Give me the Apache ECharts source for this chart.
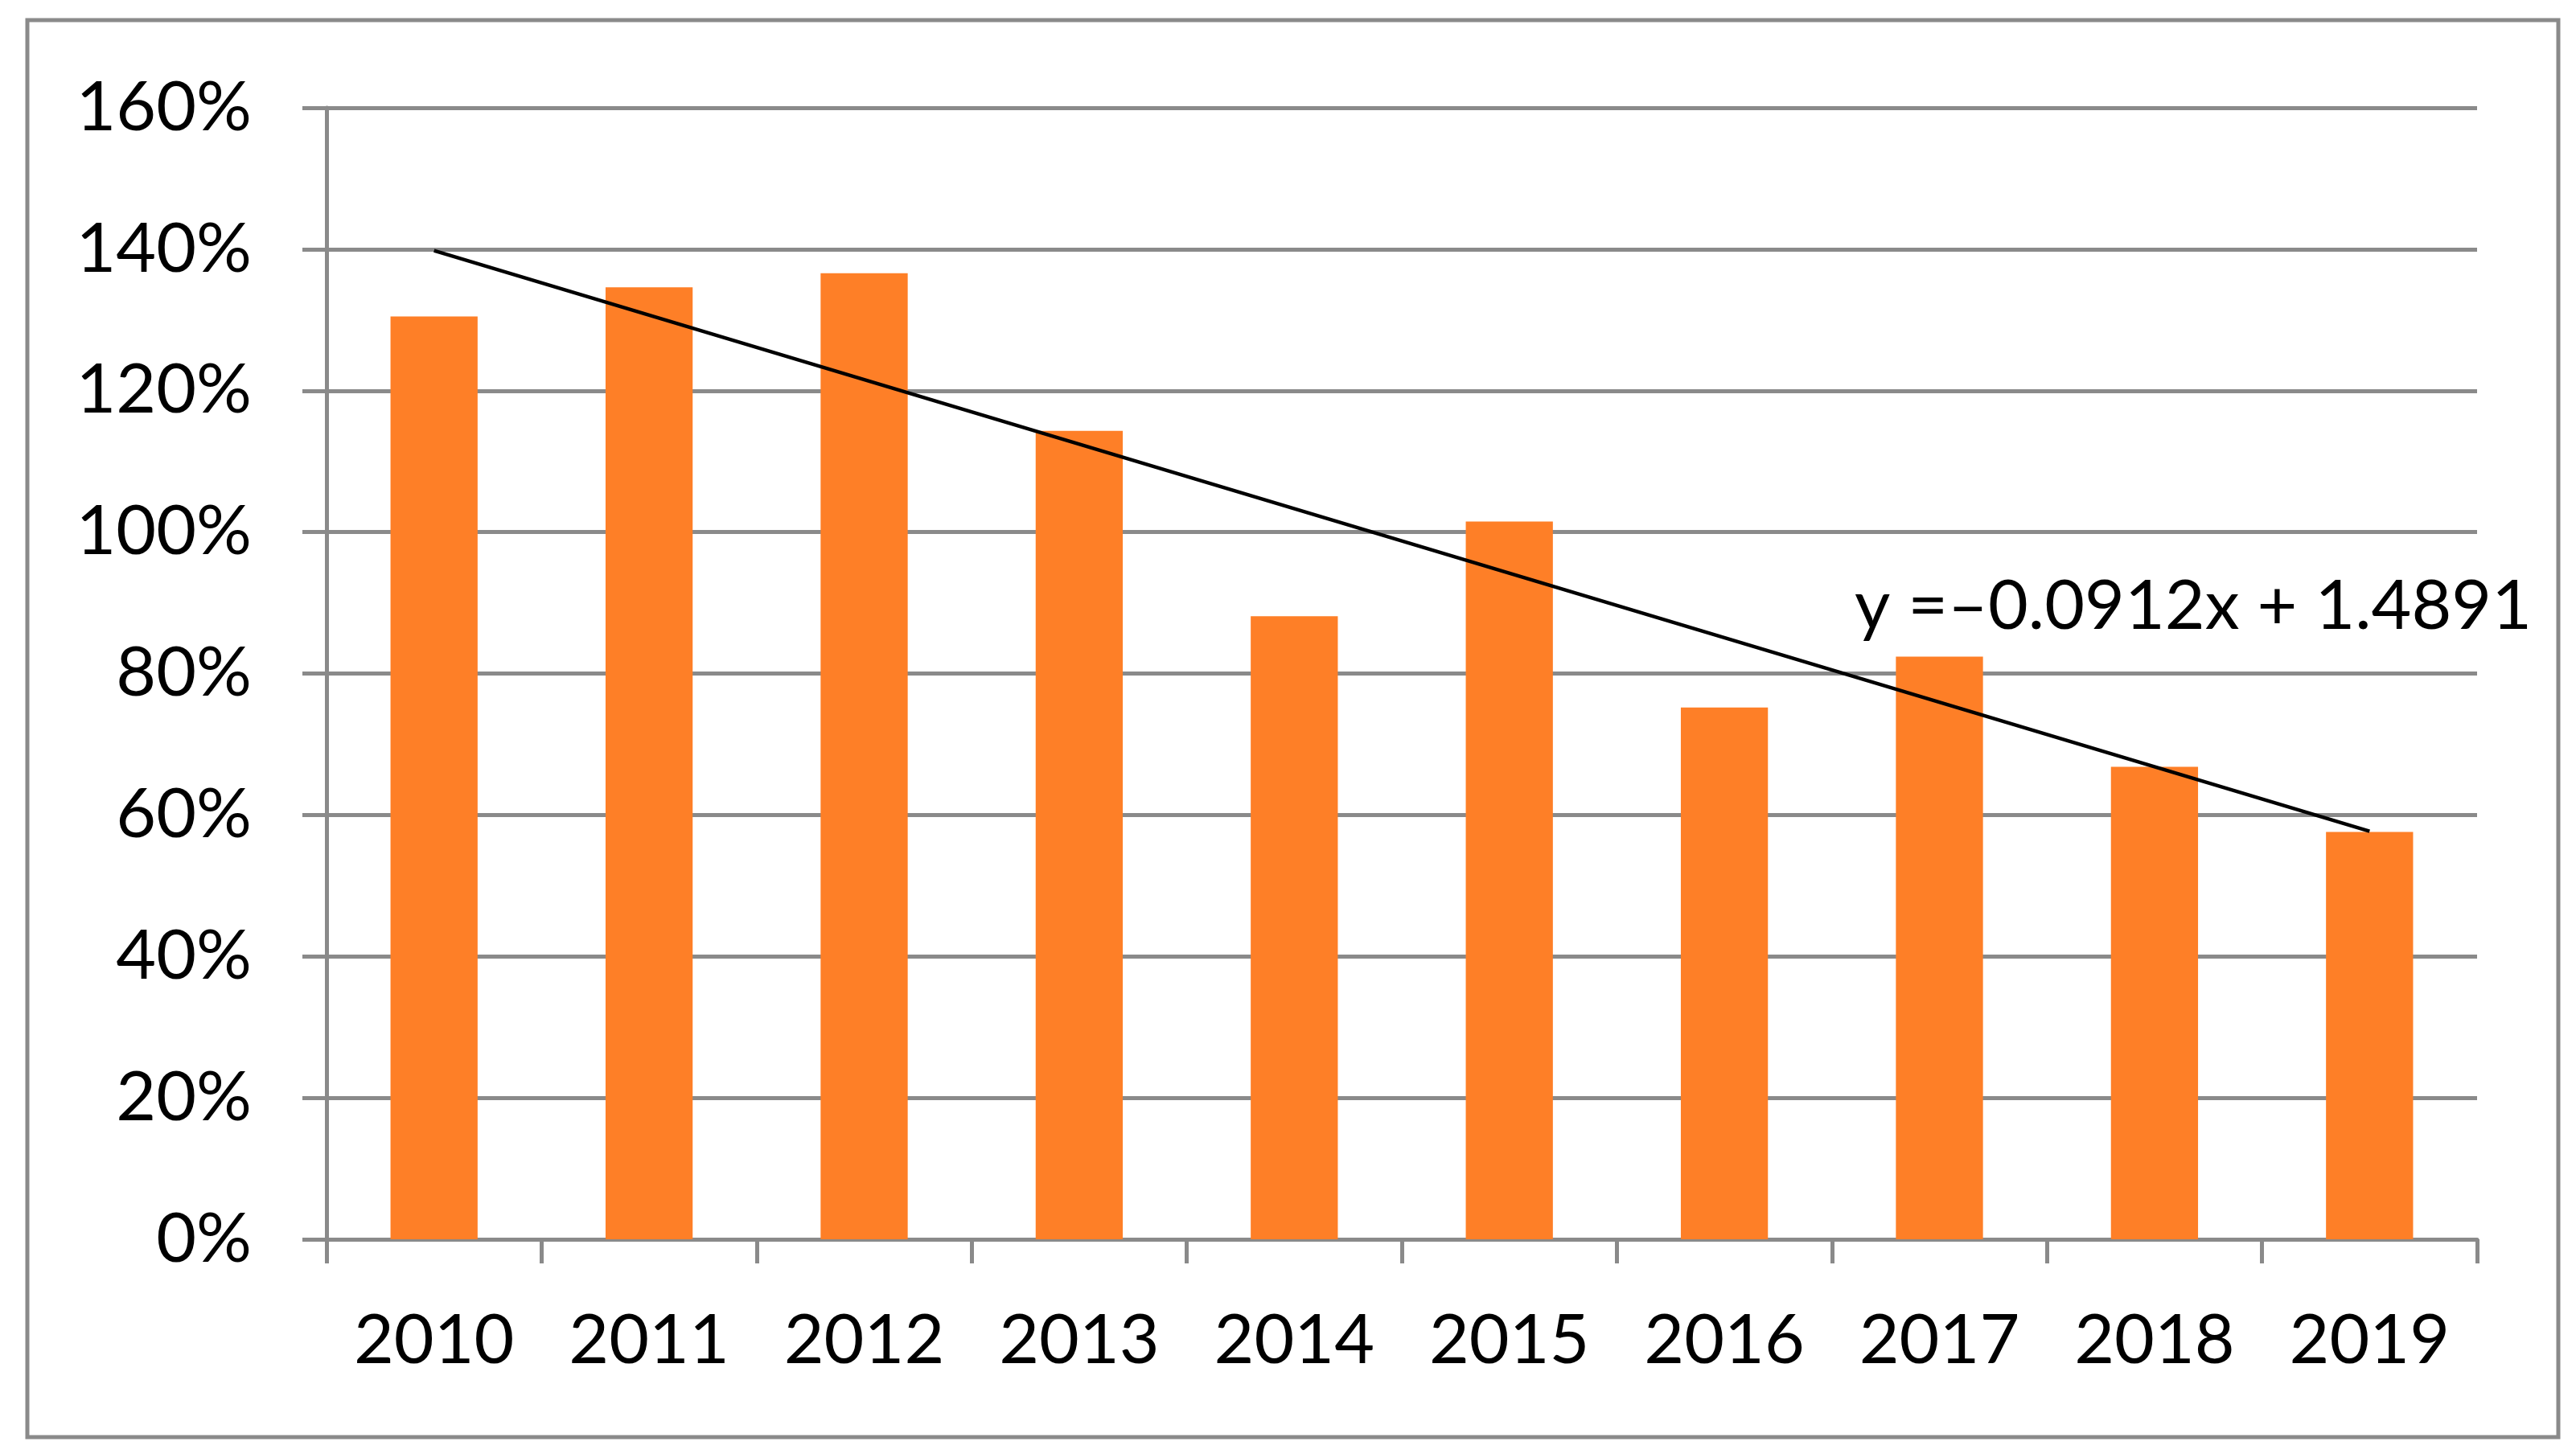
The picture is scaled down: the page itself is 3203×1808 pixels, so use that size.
<!DOCTYPE html>
<html>
<head>
<meta charset="utf-8">
<script src="https://cdn.jsdelivr.net/npm/echarts@6/dist/echarts.min.js"></script>
<style>
html,body{margin:0;padding:0;background:#fff;}
#chart{width:3203px;height:1808px;}
</style>
</head>
<body>
<div id="chart"></div>
<script>
const categories = ['2010','2011','2012','2013','2014','2015','2016','2017','2018','2019'];
const values = [130.5, 134.6, 136.6, 114.3, 88.1, 101.5, 75.2, 82.4, 66.8, 57.6];
const trendValues = [139.8, null, null, null, null, null, null, null, null, 57.7];
const trendLabel = 'y =\u20130.0912x + 1.4891';
const yTicks = {min: 0, max: 160, interval: 20};

const FONT = 'Lato';
const GRAY = '#8a8a8a';

const chart = echarts.init(document.getElementById('chart'), null, {renderer: 'canvas'});
chart.setOption({
  animation: false,
  backgroundColor: '#ffffff',
  grid: {left: 406, right: 123, top: 134, bottom: 267, containLabel: false},
  xAxis: {
    type: 'category',
    data: categories,
    boundaryGap: true,
    axisLine: {show: true, lineStyle: {color: GRAY, width: 5}},
    axisTick: {show: true, length: 30, inside: false, lineStyle: {color: GRAY, width: 5}},
    axisLabel: {color: '#000', fontFamily: FONT, fontSize: 86, margin: 83, interval: 0},
    splitLine: {show: false}
  },
  yAxis: {
    type: 'value',
    min: yTicks.min, max: yTicks.max, interval: yTicks.interval,
    axisLine: {show: true, lineStyle: {color: GRAY, width: 5}},
    axisTick: {show: true, length: 30, inside: false, lineStyle: {color: GRAY, width: 5}},
    axisLabel: {color: '#000', fontFamily: FONT, fontSize: 86, margin: 93, formatter: '{value}%'},
    splitLine: {show: true, lineStyle: {color: GRAY, width: 5}}
  },
  series: [
    {
      type: 'bar',
      data: values,
      barWidth: '40.5%',
      itemStyle: {color: '#FE7F27'},
      z: 2
    },
    {
      type: 'line',
      data: trendValues,
      connectNulls: true,
      symbol: 'none',
      lineStyle: {color: '#000', width: 4.5},
      z: 5
    }
  ],
  graphic: [
    {
      type: 'rect',
      shape: {x: 34, y: 25, width: 3147, height: 1762},
      style: {fill: 'none', stroke: GRAY, lineWidth: 5},
      silent: true,
      z: 0
    },
    {
      type: 'text',
      x: 2727,
      y: 754,
      style: {
        text: trendLabel,
        fill: '#000',
        font: '86px Lato',
        align: 'center',
        verticalAlign: 'middle'
      },
      z: 10
    }
  ]
});
</script>
</body>
</html>
